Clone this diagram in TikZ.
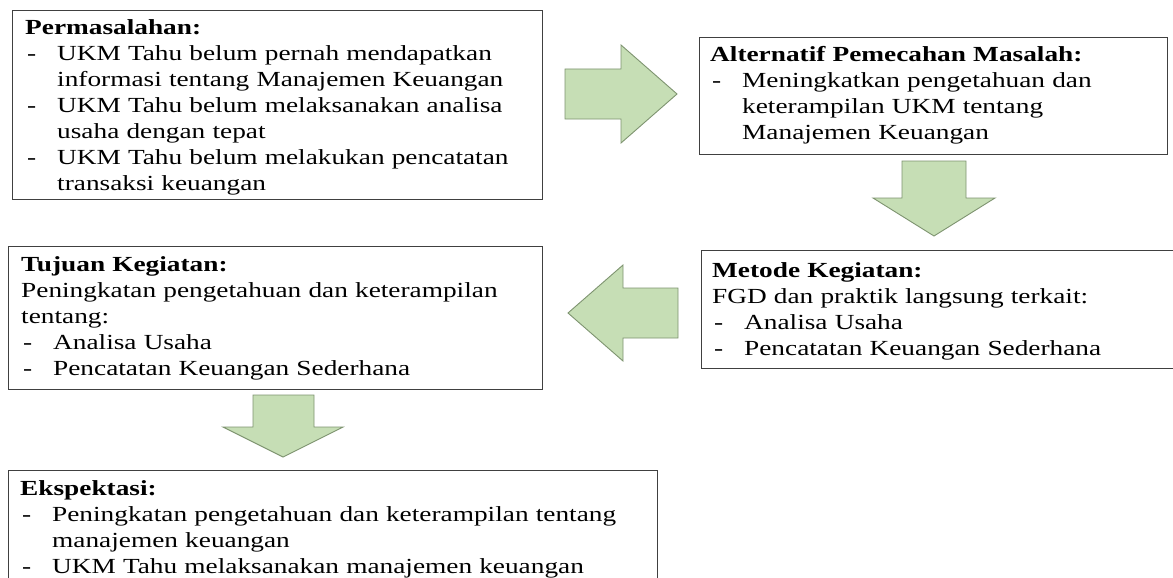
\documentclass[tikz,border=0pt]{standalone}
\usepackage{fontspec}
\setmainfont{Liberation Serif}[FakeStretch=1.27]
\definecolor{arrowfill}{HTML}{C6DEB5}
\definecolor{arrowline}{HTML}{7E9470}
\definecolor{boxline}{HTML}{404040}
\newcommand\dashitem[1]{\par\hangindent=32pt\hangafter=1\noindent\makebox[32pt][l]{\hspace{2pt}-}#1\par}
\tikzset{
  boxshape/.style={draw=boxline, line width=1.4pt, fill=white, inner sep=0pt, anchor=north west},
  boxtext/.style={inner sep=0pt, anchor=base west, text width=640pt, align=left,
    font=\fontsize{21.5pt}{26pt}\selectfont},
  blockarrow/.style={fill=arrowfill, draw=arrowline, line width=0.9pt, line join=miter},
}
\begin{document}
\begin{tikzpicture}[x=1pt,y=-1pt]
\useasboundingbox (0,0) rectangle (1173,578);
\fill[white] (0,0) rectangle (1173,578);
\clip (0,0) rectangle (1173,578);

% boxes
\node[boxshape, minimum width=530pt, minimum height=189pt] (b1) at (12,10) {};
\node[boxshape, minimum width=468pt, minimum height=117pt] (b2) at (699,37) {};
\node[boxshape, minimum width=490pt, minimum height=118pt] (b3) at (701,250) {};
\node[boxshape, minimum width=534pt, minimum height=143pt] (b4) at (8,246) {};
\node[boxshape, minimum width=649pt, minimum height=130pt] (b5) at (8,470) {};

% texts
\node[boxtext] (t1) at ([shift={(13,25)}]b1.north west) {\textbf{Permasalahan:}\par
\dashitem{UKM Tahu belum pernah mendapatkan\newline informasi tentang Manajemen Keuangan}
\dashitem{UKM Tahu belum melaksanakan analisa\newline usaha dengan tepat}
\dashitem{UKM Tahu belum melakukan pencatatan\newline transaksi keuangan}};

\node[boxtext] (t2) at ([shift={(11,25)}]b2.north west) {\textbf{Alternatif Pemecahan Masalah:}\par
\dashitem{Meningkatkan pengetahuan dan\newline keterampilan UKM tentang\newline Manajemen Keuangan}};

\node[boxtext] (t3) at ([shift={(11,27)}]b3.north west) {\textbf{Metode Kegiatan:}\par
FGD dan praktik langsung terkait:\par
\dashitem{Analisa Usaha}
\dashitem{Pencatatan Keuangan Sederhana}};

\node[boxtext] (t4) at ([shift={(13,25)}]b4.north west) {\textbf{Tujuan Kegiatan:}\par
Peningkatan pengetahuan dan keterampilan\par
tentang:\par
\dashitem{Analisa Usaha}
\dashitem{Pencatatan Keuangan Sederhana}};

\node[boxtext] (t5) at ([shift={(12,25)}]b5.north west) {\textbf{Ekspektasi:}\par
\dashitem{Peningkatan pengetahuan dan keterampilan tentang\newline manajemen keuangan}
\dashitem{UKM Tahu melaksanakan manajemen keuangan}};

% block arrows
\draw[blockarrow] (565,69) -- (621,69) -- (621,45) -- (677,94) -- (621,143) -- (621,119) -- (565,119) -- cycle;
\draw[blockarrow] (902,161) -- (966,161) -- (966,198) -- (995,198) -- (934,236) -- (873,198) -- (902,198) -- cycle;
\draw[blockarrow] (678,288) -- (623,288) -- (623,265) -- (568,313) -- (623,361) -- (623,338) -- (678,338) -- cycle;
\draw[blockarrow] (253,395) -- (314,395) -- (314,427) -- (343,427) -- (283,457) -- (223,427) -- (253,427) -- cycle;
\end{tikzpicture}
\end{document}
